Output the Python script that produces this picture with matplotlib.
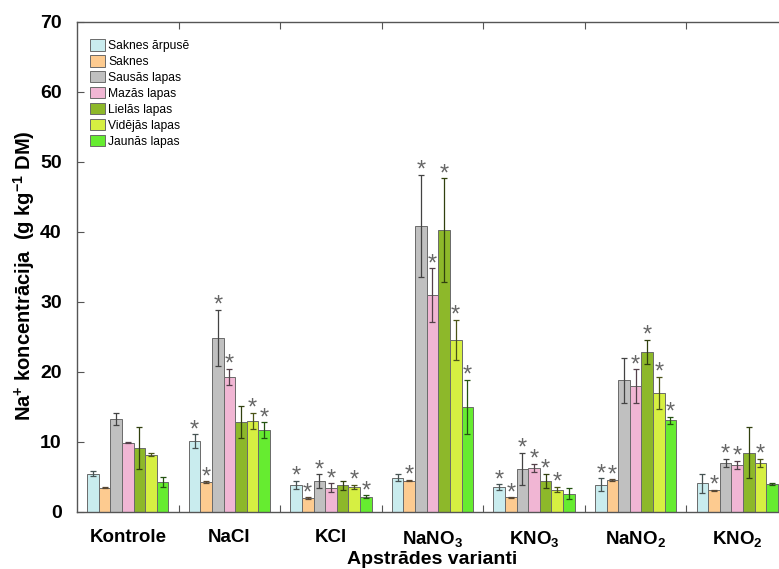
import matplotlib
matplotlib.use("Agg")
import matplotlib.pyplot as plt
import matplotlib.colors as mcolors
import numpy as np

plt.rcParams['font.family'] = ['Liberation Sans', 'DejaVu Sans']
plt.rcParams['mathtext.fontset'] = 'custom'
plt.rcParams['mathtext.rm'] = 'Liberation Sans'
plt.rcParams['mathtext.bf'] = 'Liberation Sans:bold'
plt.rcParams['mathtext.it'] = 'Liberation Sans:italic'

groups = ['Kontrole', 'NaCl', 'KCl', r'NaNO$_\mathbf{3}$', r'KNO$_\mathbf{3}$',
          r'NaNO$_\mathbf{2}$', r'KNO$_\mathbf{2}$']
series = ['Saknes ārpusē', 'Saknes', 'Sausās lapas', 'Mazās lapas',
          'Lielās lapas', 'Vidējās lapas', 'Jaunās lapas']

# values per series, over groups
saknes_arpuse = [5.5, 10.1, 3.9, 4.9, 3.6, 3.9, 4.1]
saknes        = [3.5, 4.3, 2.0, 4.5, 2.1, 4.6, 3.1]
sausas        = [13.3, 24.9, 4.4, 40.9, 6.2, 18.8, 7.0]
mazas         = [9.9, 19.3, 3.5, 31.0, 6.3, 18.0, 6.7]
lielas        = [9.1, 12.9, 3.8, 40.3, 4.5, 22.9, 8.5]
videjas       = [8.2, 13.0, 3.6, 24.6, 3.2, 17.0, 7.0]
jaunas        = [4.3, 11.7, 2.2, 15.0, 2.6, 13.1, 4.0]

err_saknes_arpuse = [0.3, 1.0, 0.6, 0.5, 0.4, 0.9, 1.4]
err_saknes        = [0.1, 0.1, 0.1, 0.1, 0.05, 0.1, 0.1]
err_sausas        = [0.8, 4.0, 1.0, 7.3, 2.3, 3.2, 0.6]
err_mazas         = [0.1, 1.2, 0.6, 3.8, 0.6, 2.4, 0.6]
err_lielas        = [3.0, 2.3, 0.6, 7.4, 1.0, 1.7, 3.7]
err_videjas       = [0.2, 1.2, 0.3, 2.9, 0.4, 2.3, 0.6]
err_jaunas        = [0.7, 1.1, 0.2, 3.9, 0.8, 0.5, 0.1]

# significance markers (1 = asterisk)
sig_saknes_arpuse = [0, 1, 1, 0, 1, 1, 0]
sig_saknes        = [0, 1, 1, 1, 1, 1, 1]
sig_sausas        = [0, 1, 1, 1, 1, 0, 1]
sig_mazas         = [0, 1, 1, 1, 1, 1, 1]
sig_lielas        = [0, 0, 0, 1, 1, 1, 0]
sig_videjas       = [0, 1, 1, 1, 1, 1, 1]
sig_jaunas        = [0, 1, 1, 1, 0, 1, 0]

values = [saknes_arpuse, saknes, sausas, mazas, lielas, videjas, jaunas]
errors = [err_saknes_arpuse, err_saknes, err_sausas, err_mazas, err_lielas,
          err_videjas, err_jaunas]
sigs = [sig_saknes_arpuse, sig_saknes, sig_sausas, sig_mazas, sig_lielas,
        sig_videjas, sig_jaunas]
colors = ['#c9ecee', '#fdcb90', '#c0c0c0', '#f1b6d4', '#8db82a', '#d6ef42', '#66ec30']

fig = plt.figure(figsize=(7.79, 5.69), dpi=100)
ax = fig.add_axes([77/779, 57/569, 711/779, 490/569])

n = len(series)
x = np.arange(1, len(groups) + 1)
gw = 0.8
bw = gw / n
for i in range(n):
    xpos = x - gw/2 + bw*(i + 0.5)
    c = colors[i]
    ecol = tuple(np.array(mcolors.to_rgb(c)) * 0.35)
    ax.bar(xpos, values[i], width=bw, color=c, edgecolor='#6a6a6a',
           linewidth=0.7, label=series[i], zorder=2)
    ax.errorbar(xpos, values[i], yerr=errors[i], fmt='none', ecolor=ecol,
                elinewidth=0.9, capsize=2.5, capthick=0.9, zorder=3)
    for j in range(len(groups)):
        if sigs[i][j]:
            ax.annotate('*', xy=(xpos[j], values[i][j] + errors[i][j]),
                        xytext=(0, -1.5), textcoords='offset points',
                        ha='center', va='baseline', fontsize=17,
                        color='#666666', zorder=4)

ax.set_xlim(0.5, 7.5)
ax.set_ylim(0, 70)
ax.set_yticks(range(0, 71, 10))
ax.set_xticks(np.arange(1.5, 7.0, 1.0))
ax.set_xticklabels([])
ax.set_xticks(x, minor=True)
ax.set_xticklabels(groups, minor=True, fontsize=13.5, fontweight='bold')
ax.tick_params(axis='x', which='minor', length=0, pad=12)
ax.tick_params(axis='x', which='major', direction='in', length=5,
               top=True, color='#555555')
ax.tick_params(axis='y', direction='in', length=5, right=True,
               color='#555555', labelsize=14, pad=11)
for lab in ax.get_yticklabels():
    lab.set_fontweight('bold')
for s in ax.spines.values():
    s.set_color('#555555')
    s.set_linewidth(1.0)

ax.set_ylabel(r'Na$^{\mathbf{+}}$ koncentrācija  (g kg$^{\mathbf{-1}}$ DM)',
              fontsize=14.5, fontweight='bold')
ax.yaxis.set_label_coords(-0.056, 0.482)
ax.set_xlabel('Apstrādes varianti', fontsize=14, fontweight='bold', labelpad=2)

leg = ax.legend(loc='upper left', frameon=False, fontsize=8.7,
                handlelength=1.2, handleheight=1.1, handletextpad=0.3,
                labelspacing=0.25, borderaxespad=0.4,
                bbox_to_anchor=(0.005, 0.985))

fig.savefig('out.png', dpi=100)
